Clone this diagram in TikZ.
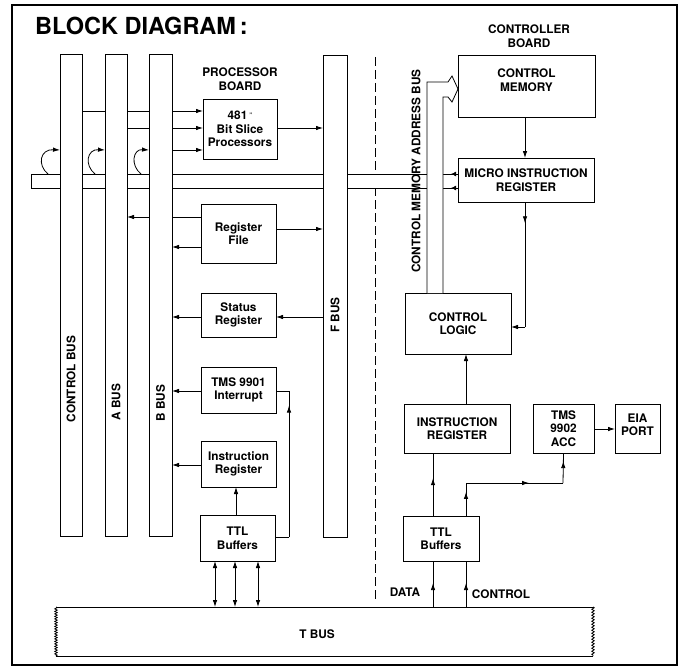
\documentclass[tikz,border=0pt]{standalone}
\usepackage{fontspec}
\setmainfont{TeX Gyre Heros}
\usetikzlibrary{arrows.meta,decorations.pathmorphing,decorations.markings}
\newcommand\txt{\bfseries\fontsize{11.8}{13.5}\selectfont}
\tikzset{
 ln/.style={line width=0.8pt},
 box/.style={draw, line width=0.8pt, fill=white, inner sep=0pt, outer sep=0pt, align=center, font=\txt},
 vbus/.style={draw, line width=0.8pt, fill=white, inner sep=0pt, outer sep=0pt},
 arr/.style={-{Latex[length=7pt,width=4.5pt]}, line width=0.8pt},
 darr/.style={{Latex[length=7pt,width=4.5pt]}-{Latex[length=7pt,width=4.5pt]}, line width=0.8pt},
 midarrow/.style={line width=0.8pt, postaction={decorate}, decoration={markings, mark=at position #1 with {\arrow{Latex[length=7pt,width=4.5pt]}}}},
 lbl/.style={font=\txt, align=center, inner sep=0pt},
}
\begin{document}
\begin{tikzpicture}[x=1pt,y=-1pt]
\useasboundingbox (0,0) rectangle (684,666);
\draw[line width=1.3pt] (12,5) rectangle (677,665);
\node[anchor=base west, font=\bfseries\fontsize{23.5}{26}\selectfont, inner sep=0pt] (title) at (35,35) {BLOCK DIAGRAM\,:};
\node[lbl] (pb) at (240,79) {PROCESSOR\\BOARD};
\node[lbl] (cb) at (529,36) {CONTROLLER\\BOARD};

% dashed separator (behind the horizontal bus)
\draw[ln, dash pattern=on 9pt off 4pt] (375,57) -- (375,600);

% processor board boxes
\node[box, minimum width=74pt, minimum height=60pt] (bsp) at (240,129) {481\,\raisebox{2pt}{\fontsize{6}{6}\selectfont''}\\Bit Slice\\Processors};
\node[box, minimum width=75pt, minimum height=59pt] (rf) at (238.5,233.5) {Register\\File};
\node[box, minimum width=75pt, minimum height=44pt] (sr) at (238.5,315) {Status\\Register};
\node[box, minimum width=75pt, minimum height=46pt] (tms1) at (238.5,390) {TMS 9901\\Interrupt};
\node[box, minimum width=75pt, minimum height=46pt] (irL) at (238.5,464) {Instruction\\Register};
\node[box, minimum width=75pt, minimum height=46pt] (ttlL) at (237.5,538) {TTL\\Buffers};

% controller board boxes
\node[box, minimum width=137pt, minimum height=62pt] (cm) at (526.5,86) {};
\node[lbl] (cmt) at (526.5,80) {CONTROL\\MEMORY};
\node[box, minimum width=136pt, minimum height=44pt] (mir) at (526,180) {MICRO INSTRUCTION\\REGISTER};
\node[box, minimum width=106pt, minimum height=61pt] (cl) at (458,323.5) {CONTROL\\LOGIC};
\node[box, minimum width=106pt, minimum height=49pt] (irR) at (457,428.5) {INSTRUCTION\\REGISTER};
\node[box, minimum width=61pt, minimum height=49pt] (acc) at (563.5,428.5) {TMS\\9902\\ACC};
\node[box, minimum width=45pt, minimum height=49pt] (eia) at (637.5,428.5) {};
\node[lbl] (eiat) at (637.5,425) {EIA\\PORT};
\node[box, minimum width=76pt, minimum height=45pt] (ttlR) at (441,538.5) {TTL\\Buffers};

% T bus
\node[inner sep=0pt, outer sep=0pt, minimum width=537pt, minimum height=49pt] (tbus) at (324.5,631.5) {};
\draw[ln] (tbus.north west) -- (tbus.north east);
\draw[ln] (tbus.south west) -- (tbus.south east);
\draw[ln, decorate, decoration={zigzag, segment length=2.5pt, amplitude=1.2pt}] (tbus.north west) -- (tbus.south west);
\draw[ln, decorate, decoration={zigzag, segment length=3pt, amplitude=1.2pt}] (tbus.north east) -- (tbus.south east);
\node[lbl] (tbl) at (317,634) {T BUS};

% vertical bus centres
\path (71,295) coordinate (cbusC) (116,295) coordinate (abusC) (160.5,295) coordinate (bbusC) (335,296) coordinate (fbusC);

% lines passing behind the vertical buses
\draw[arr] (82,111) coordinate (c1) -- (bsp.west |- c1);
\draw[arr] (127,128) coordinate (a1) -- (bsp.west |- a1);
\draw[arr] (rf.west |- 0,217) -- (127,217) coordinate (a2);

% horizontal bus
\draw[ln, fill=white] (mir.west |- 0,174) -- (31,174) -- (31,188) -- (mir.west |- 0,188);
\draw[-{Latex[length=5pt,width=5pt]}, line width=0.8pt] (mir.west |- 0,174) -- ++(-7,0);
\draw[-{Latex[length=5pt,width=5pt]}, line width=0.8pt] (mir.west |- 0,188) -- ++(-7,0);

% vertical buses
\node[vbus, minimum width=22pt, minimum height=482pt] (cbus) at (cbusC) {};
\node[vbus, minimum width=22pt, minimum height=482pt] (abus) at (abusC) {};
\node[vbus, minimum width=23pt, minimum height=482pt] (bbus) at (bbusC) {};
\node[vbus, minimum width=24pt, minimum height=482pt] (fbus) at (fbusC) {};
\node[lbl, rotate=90] (cbl) at (71,379) {CONTROL BUS};
\node[lbl, rotate=90] (abl) at (116,402) {A BUS};
\node[lbl, rotate=90] (bbl) at (160.5,403) {B BUS};
\node[lbl, rotate=90] (fbl) at (335,315) {F BUS};

% curved arrows from the horizontal bus into the vertical buses
\coordinate (h1) at (48,174); \coordinate (h2) at (95,174); \coordinate (h3) at (141,174);
\draw[arr] (h1) .. controls (37,165) and (40,149) .. (cbus.west |- 0,150);
\draw[arr] (h2) .. controls (84,165) and (87,149) .. (abus.west |- 0,150);
\draw[arr] (h3) .. controls (130,165) and (133,149) .. (bbus.west |- 0,150);

% control memory address bus
\draw[ln, fill=white] (cl.north -| 427,0) -- (427,82) -- (448,82) -- (452,76) -- (cm.west |- 0,89) -- (452,102) -- (448,97) -- (443,97) -- (cl.north -| 443,0);
\node[lbl, rotate=90] (cmal) at (416,171) {CONTROL MEMORY ADDRESS BUS};

% processor board connectors
\draw[arr] (bbus.east |- 0,150) -- (bsp.west |- 0,150);
\draw[arr] (bsp.east |- 0,128) -- (fbus.west |- 0,128);
\draw[arr] (rf.east |- 0,229) -- (fbus.west |- 0,229);
\draw[arr] (rf.west |- 0,247) -- (bbus.east |- 0,247);
\draw[arr] (fbus.west |- 0,317) -- (sr.east |- 0,317);
\draw[arr] (sr.west |- 0,317) -- (bbus.east |- 0,317);
\draw[arr] (tms1.west |- 0,391) -- (bbus.east |- 0,391);
\draw[arr] (irL.west |- 0,465) -- (bbus.east |- 0,465);
\draw[arr] (ttlL.north -| 236,0) -- (irL.south -| 236,0);
\coordinate (t1) at (289,537); \coordinate (t2) at (289,391);
\draw[ln] (ttlL.east |- t1) -- (t1);
\draw[midarrow=0.9] (t1) -- (t2);
\draw[ln] (t2) -- (tms1.east |- t2);
\foreach \x in {215,235,258} \draw[darr] (ttlL.south -| \x,0) -- (tbus.north -| \x,0);

% controller board connectors
\draw[arr] (cm.south -| 525,0) -- (mir.north -| 525,0);
\coordinate (m1) at (525,327);
\draw[midarrow=0.17] (mir.south -| m1) -- (m1);
\draw[arr] (m1) -- (cl.east |- m1);
\draw[arr] (irR.north -| 466,0) -- (cl.south -| 466,0);
\draw[midarrow=0.6] (ttlR.north -| 433,0) -- (irR.south -| 433,0);
\coordinate (k1) at (466,483); \coordinate (k2) at (563,483);
\draw[midarrow=0.73] (ttlR.north -| k1) -- (k1);
\draw[midarrow=0.65] (k1) -- (k2);
\draw[midarrow=0.73] (k2) -- (acc.south);
\draw[arr] (acc.east |- 0,429) -- (eia.west |- 0,429);
\draw[midarrow=0.52] (tbus.north -| 433,0) -- (ttlR.south -| 433,0);
\draw[midarrow=0.52] (tbus.north -| 466,0) -- (ttlR.south -| 466,0);
\node[lbl] (dl) at (405,592) {DATA};
\node[lbl] (ctl) at (501,594) {CONTROL};
\end{tikzpicture}
\end{document}
